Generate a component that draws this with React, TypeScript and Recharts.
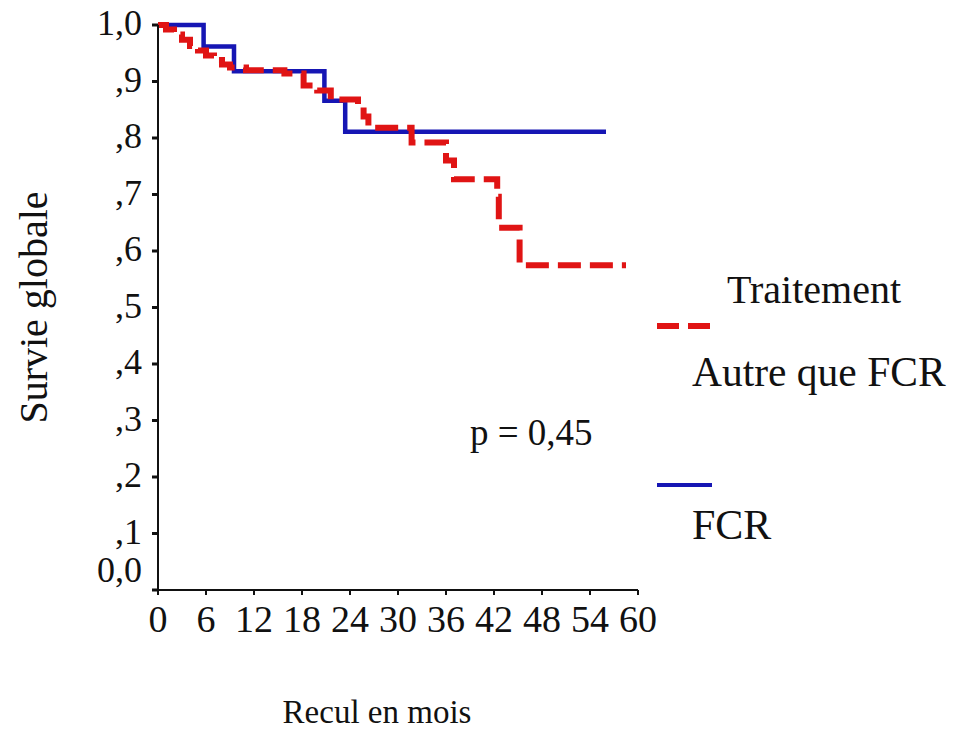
import React from "react";
import { LineChart, Line, XAxis, YAxis, Legend } from "recharts";

const xTicks = [0, 6, 12, 18, 24, 30, 36, 42, 48, 54, 60];
const yTicks = [0, 0.1, 0.2, 0.3, 0.4, 0.5, 0.6, 0.7, 0.8, 0.9, 1.0];
const yTickLabels = ["0,0", ",1", ",2", ",3", ",4", ",5", ",6", ",7", ",8", ",9", "1,0"];

const fcrMonths = [0, 5.7, 9.5, 20.8, 23.4, 56];
const fcrSurvival = [1.0, 0.962, 0.918, 0.866, 0.811, 0.811];

const autreMonths = [0, 1, 2, 3, 4, 5, 6, 7, 8, 9, 11, 15.8, 18.2, 19.9, 21.6, 25, 25.7, 26.3, 31.7, 36.0, 37.0, 42.4, 42.6, 45.2, 58.5];
const autreSurvival = [1.0, 0.992, 0.983, 0.974, 0.963, 0.955, 0.946, 0.938, 0.93, 0.925, 0.92, 0.914, 0.893, 0.884, 0.868, 0.855, 0.838, 0.818, 0.792, 0.76, 0.727, 0.696, 0.641, 0.575, 0.575];

const seriesNames = ["Autre que FCR", "FCR"];
const legendTitle = "Traitement";
const pValueText = "p = 0,45";
const xAxisTitle = "Recul en mois";
const yAxisTitle = "Survie globale";

const fcrData = fcrMonths.map((t, i) => ({ t, s: fcrSurvival[i] }));
const autreData = autreMonths.map((t, i) => ({ t, s: autreSurvival[i] }));

const FONT = '"Liberation Serif", "Times New Roman", serif';
const RED = "#e01414";
const BLUE = "#1616b4";

const YTick = (props: any) => {
  const { x, y, payload } = props;
  const idx = yTicks.indexOf(payload.value);
  const label = idx >= 0 ? yTickLabels[idx] : String(payload.value);
  const dy = payload.value === 0 ? -20 : -2;
  return (
    <text x={x - 8} y={y + dy} textAnchor="end" dominantBaseline="central" fontFamily={FONT} fontSize={36} fill="#111">
      {label}
    </text>
  );
};

const XTick = (props: any) => {
  const { x, y, payload } = props;
  return (
    <text x={x} y={y + 22} textAnchor="middle" dominantBaseline="central" fontFamily={FONT} fontSize={38} fill="#111">
      {payload.value}
    </text>
  );
};

const LegendContent = () => (
  <div style={{ position: "relative", width: 0, height: 0, overflow: "visible", fontFamily: FONT, color: "#111" }}>
    <div style={{ position: "absolute", left: 87, top: 8, fontSize: 40, lineHeight: "44px", whiteSpace: "nowrap" }}>{legendTitle}</div>
    <svg style={{ position: "absolute", left: 0, top: 0, overflow: "visible" }} width={300} height={300}>
      <line x1={17} x2={72} y1={66} y2={66} stroke={RED} strokeWidth={6} strokeDasharray="22 9" />
      <line x1={17} x2={72} y1={225} y2={225} stroke={BLUE} strokeWidth={4} />
    </svg>
    <div style={{ position: "absolute", left: 52, top: 90, fontSize: 41.5, lineHeight: "44px", whiteSpace: "nowrap" }}>{seriesNames[0]}</div>
    <div style={{ position: "absolute", left: 52, top: 243, fontSize: 42, lineHeight: "44px", whiteSpace: "nowrap" }}>{seriesNames[1]}</div>
  </div>
);

export default function App() {
  return (
    <div style={{ position: "absolute", left: 0, top: 0, width: 954, height: 731, background: "#fff" }}>
      <LineChart width={954} height={731} margin={{ top: 25, right: 316, bottom: 0, left: 0 }}>
        <XAxis
          type="number"
          dataKey="t"
          domain={[0, 60]}
          ticks={xTicks}
          interval={0}
          allowDuplicatedCategory={false}
          height={141}
          axisLine={{ stroke: "#111", strokeWidth: 2 }}
          tickLine={{ stroke: "#111", strokeWidth: 2 }}
          tickSize={5}
          tick={<XTick />}
          label={{ value: xAxisTitle, position: "insideBottom", offset: 0, dx: -21, dy: -8, style: { fontFamily: FONT, fontSize: 33, fill: "#111" } } as any}
        />
        <YAxis
          type="number"
          dataKey="s"
          domain={[0, 1]}
          ticks={yTicks}
          interval={0}
          width={158}
          axisLine={{ stroke: "#111", strokeWidth: 2 }}
          tickLine={{ stroke: "#111", strokeWidth: 3 }}
          tickSize={6}
          tick={<YTick />}
          label={{ value: yAxisTitle, angle: -90, position: "insideLeft", offset: 0, dx: 33, style: { fontFamily: FONT, fontSize: 40, fill: "#111", textAnchor: "middle" } } as any}
        />
        <Line
          data={fcrData}
          dataKey="s"
          type="stepAfter"
          stroke={BLUE}
          strokeWidth={4.5}
          dot={false}
          activeDot={false}
          isAnimationActive={false}
          name={seriesNames[1]}
        />
        <Line
          data={autreData}
          dataKey="s"
          type="stepAfter"
          stroke={RED}
          strokeWidth={6}
          strokeDasharray="23 9"
          dot={false}
          activeDot={false}
          isAnimationActive={false}
          name={seriesNames[0]}
        />
        <Legend
          content={<LegendContent />}
          wrapperStyle={{ position: "absolute", left: 640, top: 260, width: 0, height: 0 }}
        />
      </LineChart>
      <div style={{ position: "absolute", left: 470, top: 413, fontFamily: FONT, fontSize: 37, lineHeight: "40px", color: "#111", whiteSpace: "nowrap" }}>
        {pValueText}
      </div>
    </div>
  );
}
